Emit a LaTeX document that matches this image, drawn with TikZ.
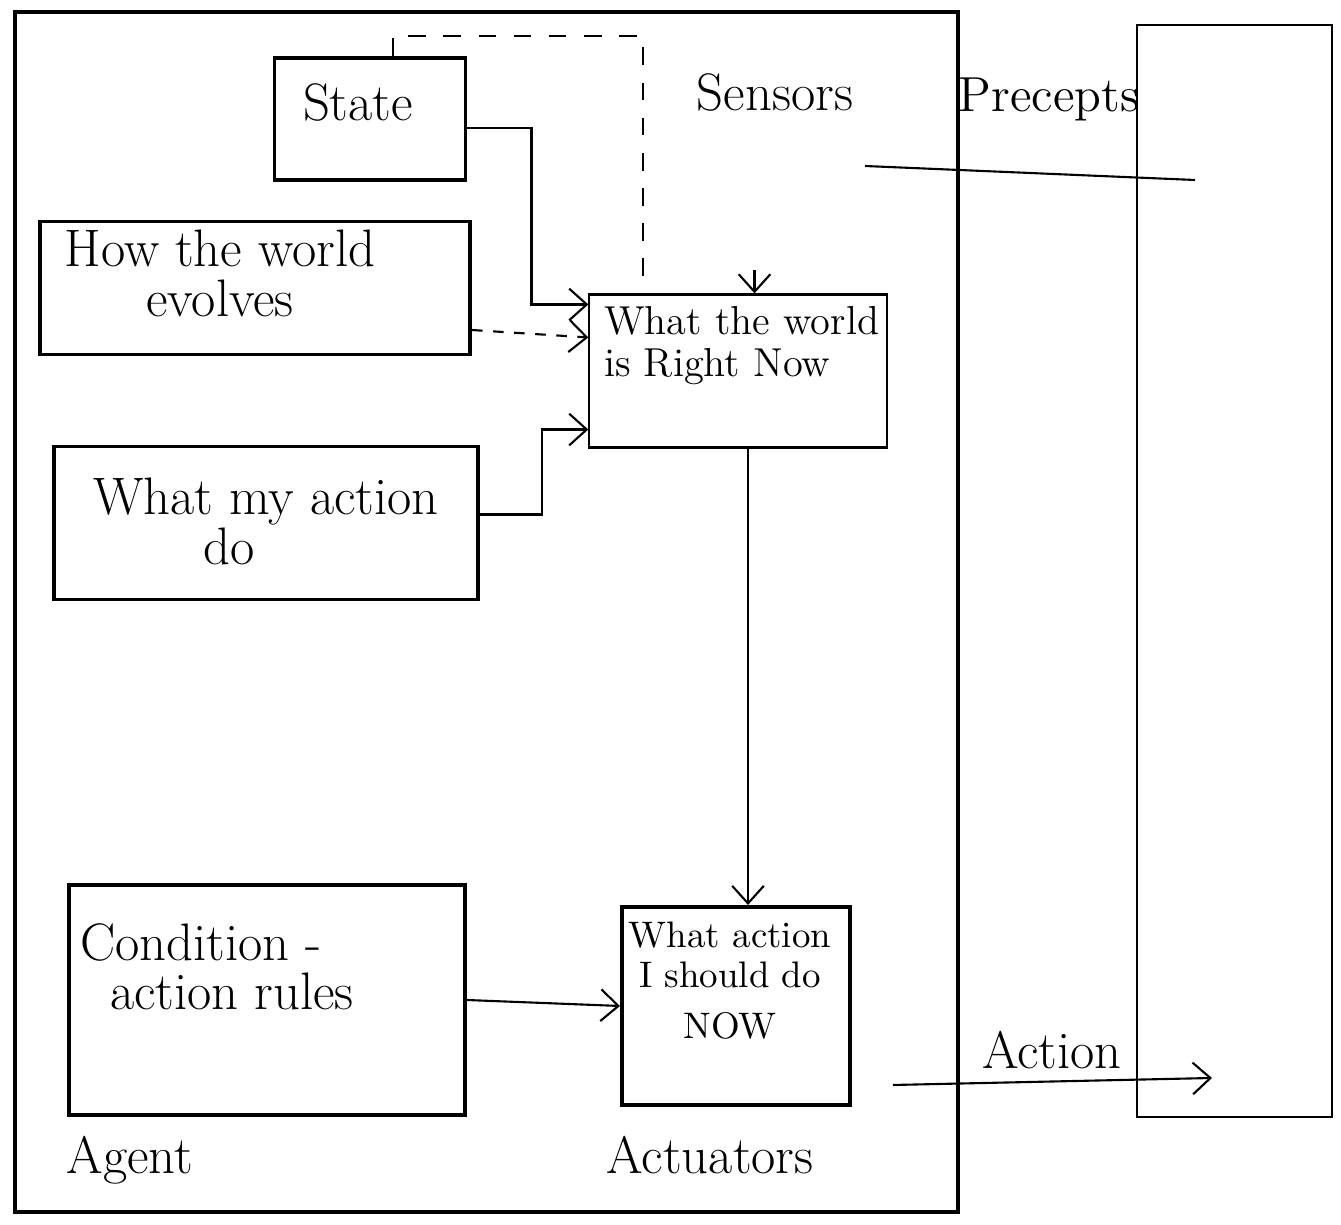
\documentclass[tikz,border=0pt]{standalone}
\usetikzlibrary{arrows.meta}
\tikzset{
  blk/.style={draw, line width=1.1pt, inner sep=0pt},
  big/.style={font=\fontsize{15}{14}\selectfont, inner sep=0pt},
  small/.style={font=\fontsize{11.5}{12}\selectfont, inner sep=0pt},
  flow/.style={line width=0.6pt, -{Straight Barb[length=5pt,width=9pt]}},
}
\begin{document}
\begin{tikzpicture}[x=0.01cm,y=-0.01cm]
\useasboundingbox (0,0) rectangle (1341,1225);
  \draw[line width=0.9pt] (15,12) rectangle (958,1212); % agent
  \draw[line width=0.7pt] (1137,25) rectangle (1332,1117); % environment

  \node[blk, minimum width=1.91cm, minimum height=1.22cm,
    label={[big,anchor=north,xshift=-0.12cm,yshift=-0.27cm]north:State}] (state) at (370,119) {};
  \node[blk, minimum width=4.30cm, minimum height=1.33cm,
    label={[big,align=center,anchor=north,xshift=-0.35cm,yshift=-0.1cm]north:How the world\\evolves}] (evolves) at (255,288) {};
  \node[blk, minimum width=4.23cm, minimum height=1.53cm,
    label={[big,align=left,anchor=north west,xshift=0.4cm,yshift=-0.33cm]north west:What my action\\\hspace{1.1cm}do}] (effects) at (266,523) {};
  \node[blk, minimum width=3.95cm, minimum height=2.30cm,
    label={[big,align=left,anchor=north west,xshift=0.12cm,yshift=-0.4cm]north west:Condition -\\\hspace{0.3cm}action rules}] (rules) at (267,1000) {};
  \node[blk, line width=0.6pt, minimum width=2.97cm, minimum height=1.53cm,
    label={[small,align=left,anchor=north west,xshift=0.15cm,yshift=-0.12cm]north west:What the world\\is Right Now}] (world) at (738,371) {};
  \node[blk, minimum width=2.28cm, minimum height=1.98cm,
    label={[small,font=\fontsize{10.5}{11.5}\selectfont,align=center,anchor=north,xshift=-0.06cm,yshift=-0.16cm]north:What action\\I should do\\[3pt]NOW}] (decide) at (736,1006) {};

  \node[big] (sens) at (775,92) {Sensors};
  \node[big, font=\fontsize{14}{14}\selectfont] (perc) at (1049,99) {Precepts};
  \node[big] (actlbl) at (1052,1050) {Action};
  \node[big] (agentlbl) at (130,1160) {Agent};
  \node[big] (actu) at (710,1155) {Actuators};

  \coordinate (pin) at (865,166);
  \coordinate (pout) at (1195,180);
  \coordinate (aout) at (893,1085);
  \coordinate (ain) at (1212,1078);

  \draw[line width=0.6pt] (pin) -- (pout); % percepts
  \draw[flow] ([xshift=0.165cm,yshift=0.23cm]world.north) -- ([xshift=0.165cm]world.north);
  \draw[line width=0.7pt, dash pattern=on 5pt off 5pt] ([xshift=0.23cm]state.north) -- ++(0,-20) -| ([xshift=-0.95cm]world.north);
  \draw[flow] ([yshift=-0.09cm]state.east) -- ++(64,0) |- ([yshift=0.665cm]world.west);
  \draw[flow, dashed] ([yshift=-0.42cm]evolves.east) -- ([yshift=0.335cm]world.west);
  \draw[flow] ([yshift=0.085cm]effects.east) -- ++(62,0) |- ([yshift=-0.585cm]world.west);
  \draw[flow] ([xshift=0.1cm]world.south) -- ([xshift=0.1cm]world.south |- decide.north);
  \draw[flow] (rules.east) -- (decide.west);
  \draw[flow] (aout) -- (ain); % action
\end{tikzpicture}
\end{document}
